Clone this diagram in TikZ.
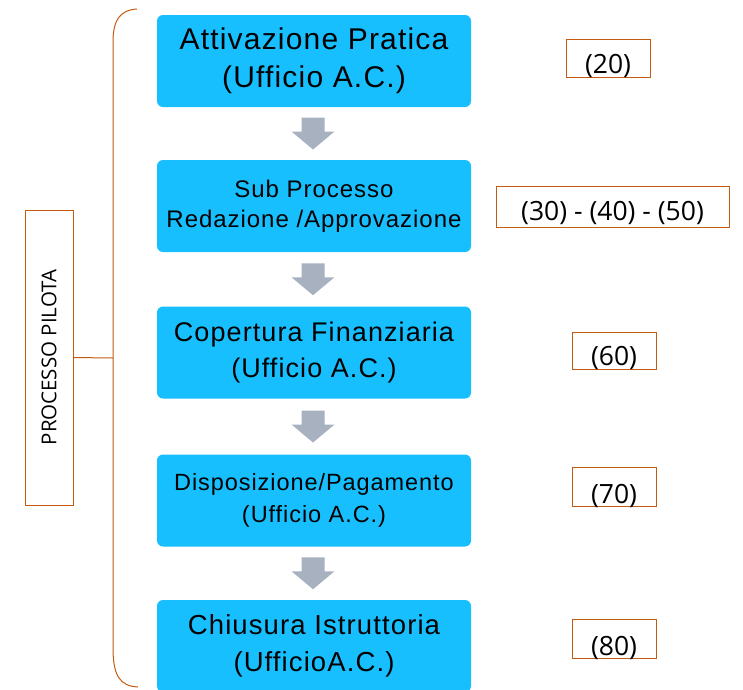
\documentclass[tikz,border=0pt]{standalone}
\usepackage{fontspec}
\setmainfont{Liberation Sans}
\newfontfamily\boxfont[LetterSpace=4]{Liberation Sans}
\newfontfamily\labfont{Open Sans}
\usetikzlibrary{calc}
\definecolor{stepblue}{RGB}{24,191,255}
\definecolor{braceorange}{RGB}{197,90,17}
\definecolor{arrowgray}{RGB}{167,177,191}

\begin{document}
\begin{tikzpicture}[x=1pt,y=-1pt,
    stepbox/.style={fill=stepblue, rounded corners=6pt, minimum width=314pt, minimum height=92pt, inner sep=0pt, align=center},
    codebox/.style={draw=braceorange, line width=1pt, inner xsep=0pt, inner ysep=0pt, font=\labfont\fontsize{26.5}{32}\selectfont},
    sidebox/.style={draw=braceorange, line width=1pt, rotate=90, minimum width=295pt, minimum height=48pt, inner sep=0pt, font=\labfont\fontsize{20.5}{24}\selectfont}]
\useasboundingbox (0,0) rectangle (743,689);
% process steps
\node[stepbox, font=\boxfont\fontsize{30}{38}\selectfont] (att) at (314,61) {Attivazione Pratica\\(Ufficio A.C.)};
\node[stepbox, font=\boxfont\fontsize{24}{30}\selectfont] (sub) at (314,206) {Sub Processo\\Redazione /Approvazione};
\node[stepbox, font=\boxfont\fontsize{27}{36}\selectfont] (cop) at (314,352.5) {Copertura Finanziaria\\(Ufficio A.C.)};
\node[stepbox, font=\boxfont\fontsize{23.5}{32}\selectfont] (dis) at (314,500.5) {Disposizione/Pagamento\\(Ufficio A.C.)};
\node[stepbox, font=\boxfont\fontsize{27.5}{37}\selectfont] (chi) at (314,646) {Chiusura Istruttoria\\(UfficioA.C.)};
% arrows between steps
\foreach \a/\b in {att/sub, sub/cop, cop/dis, dis/chi}{
  \path ($(\a.south)+(-1,0)$) -- ($(\b.north)+(-1,0)$) coordinate[midway] (m);
  \fill[arrowgray] ($(m)+(-11.5,-16)$) -- ($(m)+(11.5,-16)$) -- ($(m)+(11.5,-2)$) -- ($(m)+(21.5,-2)$)
    -- ($(m)+(0,16)$) -- ($(m)+(-21.5,-2)$) -- ($(m)+(-11.5,-2)$) -- cycle;
}
% codes
\node[codebox, minimum width=84pt, text height=34pt, text depth=4pt] (c20) at (608,58) {(20)};
\node[codebox, minimum width=233pt, text height=34pt, text depth=7pt] (c30) at (612.5,206.5) {(30) - (40) - (50)};
\node[codebox, minimum width=84pt, text height=33pt, text depth=4pt] (c60) at (614,350.5) {(60)};
\node[codebox, minimum width=84pt, text height=36pt, text depth=3pt] (c70) at (614,486.5) {(70)};
\node[codebox, minimum width=84pt, text height=36pt, text depth=3pt] (c80) at (614,638.5) {(80)};
% brace and side label
\node[sidebox] (pilota) at (49,357.5) {PROCESSO PILOTA};
\coordinate (bracemid) at (113,358);
\draw[braceorange, line width=1pt] (137,9) .. controls (120,10) and (113,20) .. (113,42) -- (113,648)
  .. controls (113,676) and (120,686) .. (138,687);
\draw[braceorange, line width=1pt] (bracemid) -- (pilota.south);
\end{tikzpicture}
\end{document}
